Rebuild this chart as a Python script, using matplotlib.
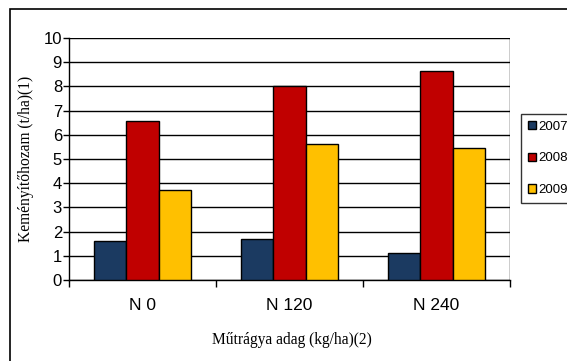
import matplotlib.pyplot as plt
import matplotlib.patches as mpatches
import numpy as np

# data
categories = ["N 0", "N 120", "N 240"]
years = ["2007", "2008", "2009"]
y2007 = [1.62, 1.68, 1.10]
y2008 = [6.58, 8.02, 8.65]
y2009 = [3.72, 5.61, 5.44]
colors = ["#1b3a61", "#c00000", "#ffc000"]

fig = plt.figure(figsize=(5.67, 3.61), dpi=100)
ax = fig.add_axes([0.1217, 0.2244, 0.7773, 0.6703])

x = np.arange(len(categories))
w = 0.221
for i, (vals, c, lab) in enumerate(zip([y2007, y2008, y2009], colors, years)):
    ax.bar(x + (i - 1) * w, vals, w, color=c, edgecolor="black", linewidth=1.0,
           label=lab, zorder=3)

ax.set_xlim(-0.5, 2.5)
ax.set_ylim(0, 10)
ax.set_yticks(range(0, 11))
ax.yaxis.grid(True, color="black", linewidth=1.0, zorder=0)
ax.set_axisbelow(True)

# category labels between boundary ticks
ax.set_xticks([-0.5, 0.5, 1.5, 2.5])
ax.set_xticklabels([])
ax.set_xticks(x, minor=True)
ax.set_xticklabels(categories, minor=True, fontsize=12.5, family="Liberation Sans")
ax.tick_params(axis="x", which="minor", length=0, pad=13)
ax.tick_params(axis="x", which="major", length=5, width=1, direction="out")
ax.tick_params(axis="y", length=4, width=1, direction="out", pad=1, labelsize=12)
for t in ax.get_yticklabels():
    t.set_family("Liberation Sans")

for s in ["top", "right"]:
    ax.spines[s].set_visible(False)
ax.spines["left"].set_linewidth(1.0)
ax.spines["bottom"].set_linewidth(1.0)
# right edge line of plot area
ax.axvline(2.5, color="black", linewidth=1.0, zorder=4)

ax.set_ylabel("Keményítőhozam (t/ha)(1)", family="Liberation Serif", fontsize=11.2, labelpad=7)
fig.text(0.5 + 8 / 567, 1 - 340 / 361, "Műtrágya adag (kg/ha)(2)", family="Liberation Serif",
         fontsize=11.2, ha="center", va="center")

# outer chart border
fig.patches.append(mpatches.Rectangle((10 / 567, -0.1), 1.2, 1.1 - 9 / 361,
                                      transform=fig.transFigure, fill=False,
                                      edgecolor="black", linewidth=1.2))

leg = fig.legend(loc="upper left", bbox_to_anchor=(521 / 567, 1 - 114 / 361),
                 prop={"family": "Liberation Sans", "size": 9.5},
                 handlelength=0.6, handleheight=0.6, handletextpad=0.2,
                 labelspacing=1.5, borderpad=0.5, borderaxespad=0,
                 frameon=True, fancybox=False, edgecolor="black")
leg.get_frame().set_linewidth(1.0)

fig.savefig("out.png", dpi=100)
